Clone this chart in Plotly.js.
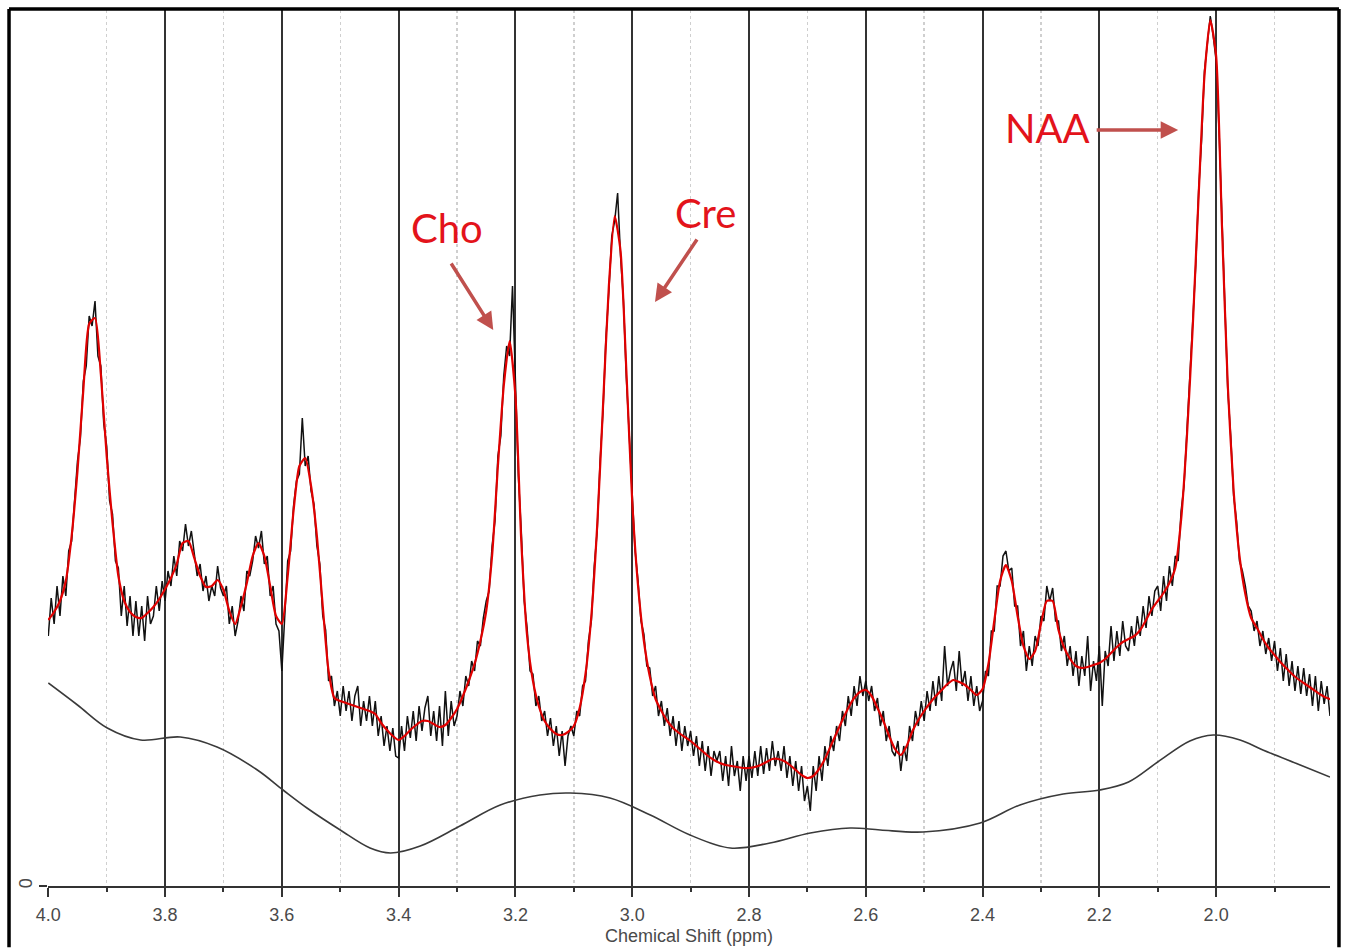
<!DOCTYPE html>
<html>
<head>
<meta charset="utf-8">
<script src="https://cdn.plot.ly/plotly-3.0.1.min.js"></script>
<style>
  html, body { margin: 0; padding: 0; background: #fff; }
  #chart { width: 1347px; height: 950px; }
</style>
</head>
<body>
<div id="chart"></div>
<script>
// ---------- data ----------
// Chemical-shift sampling grid (ppm), high to low
const spectrumStart = 4.0;
const spectrumStep = 0.005;   // raw spectrum sampling
const fitStep = 0.01;         // fitted curve sampling

// Raw (noisy) spectrum, arbitrary units, 4.000 -> 1.800 ppm every 0.005 ppm
const spectrumValues = [
  250,288,262,300,270,310,290,335,345,390,
  425,448,505,520,570,560,585,530,520,462,
  440,385,372,325,318,270,300,260,290,250,
  285,250,280,245,290,262,270,300,275,305,
  285,315,300,330,310,345,335,362,340,355,
  335,310,322,295,310,285,300,290,320,298,
  290,300,262,280,250,265,290,275,315,310,
  325,350,338,355,322,330,290,300,262,255,
  215,270,325,335,380,405,412,468,420,430,
  395,382,340,322,270,256,205,210,180,195,
  170,200,175,195,165,190,200,160,185,165,
  190,160,185,150,170,140,160,135,158,130,
  128,160,135,170,148,175,145,180,155,178,
  190,150,175,145,180,140,195,150,185,160,
  170,195,180,210,200,225,215,245,240,268,
  285,295,340,365,430,450,510,540,530,600,
  500,410,355,285,258,215,212,180,190,165,
  175,150,168,140,160,130,155,120,150,160,
  150,175,170,200,205,245,265,320,355,425,
  475,548,595,650,665,693,630,585,508,455,
  392,335,305,265,252,220,218,190,200,170,
  185,160,178,150,170,140,165,135,160,140,
  155,130,150,120,145,115,140,110,135,125,
  135,105,130,100,140,110,125,95,130,105,
  130,108,135,110,140,112,138,115,145,120,
  135,115,140,108,130,100,125,95,120,85,
  100,75,120,95,130,105,140,120,150,135,
  160,145,175,160,190,170,200,180,210,190,
  205,185,200,175,188,160,175,145,160,135,
  130,145,115,140,125,160,145,175,160,185,
  165,195,175,205,180,210,185,240,200,215,
  225,195,235,200,215,185,210,180,200,175,
  185,215,210,255,255,300,300,330,335,315,
  318,280,280,240,255,215,240,220,250,240,
  270,265,300,285,298,265,265,235,250,220,
  240,210,235,200,230,210,250,195,225,205,
  240,180,235,220,260,225,255,230,265,240,
  235,260,240,270,250,280,258,290,270,295,
  300,275,310,285,320,300,330,325,375,400,
  455,500,565,620,695,745,815,840,870,850,
  825,755,655,580,495,450,390,365,325,315,
  300,280,275,255,265,240,255,232,248,225,
  245,215,238,205,232,200,225,195,220,192,
  218,190,212,180,210,175,205,182,200,170,
  185
];

// Fitted model curve, 4.00 -> 1.80 ppm every 0.01 ppm
const fitValues = [
  266,274,285,305,350,415,496,562,568,512,
  430,363,310,285,274,269,268,273,279,287,
  297,308,322,343,345,328,310,299,300,306,
  296,275,262,280,303,330,343,330,300,270,
  262,310,375,420,428,400,350,280,215,188,
  185,183,181,179,177,175,172,163,156,150,
  146,150,156,161,165,165,162,159,161,168,
  177,190,205,222,245,275,330,420,500,545,
  490,345,250,205,180,165,157,152,151,154,
  160,178,212,270,360,480,600,670,635,515,
  385,300,245,210,187,175,165,158,153,149,
  145,140,135,130,126,123,121,120,119,118,
  118,119,121,124,127,127,125,121,116,111,
  108,110,117,127,140,153,166,178,188,194,
  196,190,178,165,150,137,131,140,155,166,
  175,183,190,196,202,206,204,201,196,191,
  197,222,265,305,321,305,270,240,227,235,
  262,285,285,256,238,227,220,218,219,221,
  223,227,233,239,244,247,250,256,266,277,
  285,293,303,318,366,450,560,690,810,866,
  830,660,500,395,330,292,268,258,247,238,
  231,224,218,212,207,203,199,195,191,188,
  186
];

// Baseline curve
const baselinePpm = [4.000,3.950,3.899,3.842,3.774,3.711,3.642,3.598,3.557,3.500,3.449,3.414,3.363,3.295,3.226,3.158,3.106,3.038,2.969,2.901,2.832,2.764,2.695,2.627,2.575,2.502,2.404,2.336,2.262,2.199,2.150,2.100,2.045,2.005,1.959,1.920,1.856,1.805];
const baselineValues = [203,181,158,146,149,139,116,96,78,56,38,33,40,60,81,91,93,88,71,51,38,43,53,58,56,54,63,81,92,96,104,124,145,151,146,136,121,109];

// Metabolite labels: name, label position, arrow tip, arrow offset
const metaboliteNames = ['Cho', 'Cre', 'NAA'];
const labelPpm = [3.317, 2.875, 2.288];
const labelValues = [658, 673, 758];
const arrowTipPpm = [3.238, 2.961, 2.065];
const arrowTipValues = [556, 584, 756];
const arrowDx = [-43, 43, -83];
const arrowDy = [-68, -64, 0];

const xTickLabels = ['4.0','3.8','3.6','3.4','3.2','3.0','2.8','2.6','2.4','2.2','2.0'];
const xTickVals = xTickLabels.map(Number);

// ---------- build ----------
const spectrumPpm = spectrumValues.map((_, i) => +(spectrumStart - i * spectrumStep).toFixed(3));
const fitPpm = fitValues.map((_, i) => +(spectrumStart - i * fitStep).toFixed(2));

const traces = [
  {
    x: baselinePpm, y: baselineValues, type: 'scatter', mode: 'lines',
    line: { color: '#3a3a3a', width: 1.6, shape: 'spline', smoothing: 1 },
    hoverinfo: 'skip'
  },
  {
    x: spectrumPpm, y: spectrumValues, type: 'scatter', mode: 'lines',
    line: { color: '#111111', width: 1.5 },
    hoverinfo: 'skip'
  },
  {
    x: fitPpm, y: fitValues, type: 'scatter', mode: 'lines',
    line: { color: '#e00000', width: 2.2, shape: 'spline', smoothing: 0.6 },
    hoverinfo: 'skip'
  }
];

const annotations = [];
metaboliteNames.forEach((name, i) => {
  annotations.push({
    x: labelPpm[i], y: labelValues[i], xref: 'x', yref: 'y',
    text: name, showarrow: false,
    font: { family: 'Lato, "Open Sans", sans-serif', size: 40, color: '#e3131b' },
    xanchor: 'center', yanchor: 'middle'
  });
  annotations.push({
    x: arrowTipPpm[i], y: arrowTipValues[i], xref: 'x', yref: 'y',
    text: '', showarrow: true, axref: 'pixel', ayref: 'pixel',
    ax: arrowDx[i], ay: arrowDy[i],
    arrowhead: 2, arrowsize: 1, arrowwidth: 3.5, arrowcolor: '#c0504d'
  });
});

// Outer frame (paper coordinates)
const fx0 = -0.0304, fx1 = 1.0070, fy0 = -0.070, fy1 = 1.0011;
const frameLine = { color: '#000', width: 3.5 };
const shapes = [
  { type: 'line', xref: 'paper', yref: 'paper', x0: fx0, x1: fx0, y0: fy0, y1: fy1, line: frameLine },
  { type: 'line', xref: 'paper', yref: 'paper', x0: fx0, x1: fx1, y0: fy1, y1: fy1, line: frameLine },
  { type: 'line', xref: 'paper', yref: 'paper', x0: fx1, x1: fx1, y0: fy0, y1: fy1, line: frameLine }
];

const layout = {
  width: 1347, height: 950,
  margin: { l: 48, r: 17, t: 10, b: 64 },
  paper_bgcolor: '#ffffff', plot_bgcolor: '#ffffff',
  showlegend: false,
  font: { family: '"Liberation Sans", Arial, sans-serif', color: '#444' },
  xaxis: {
    range: [4.0005, 1.805],
    tickmode: 'array', tickvals: xTickVals, ticktext: xTickLabels,
    showgrid: true, gridcolor: '#333', gridwidth: 2,
    zeroline: false,
    showline: true, linecolor: '#333', linewidth: 2,
    ticks: 'outside', ticklen: 9, tickwidth: 2, tickcolor: '#333',
    ticklabelstandoff: 2,
    tickfont: { size: 18, color: '#4a4a4a' },
    minor: { dtick: 0.1, tick0: 0, showgrid: true, gridcolor: '#cfcfcf', griddash: 'dot', gridwidth: 1.5,
             ticks: 'outside', ticklen: 4, tickwidth: 2, tickcolor: '#333' },
    title: { text: 'Chemical Shift (ppm)', font: { size: 18, color: '#4a4a4a' }, standoff: 6 }
  },
  yaxis: {
    range: [0, 876],
    tickmode: 'array', tickvals: [0], ticktext: ['0'],
    tickangle: -90,
    showgrid: false, zeroline: false, showline: false,
    ticks: 'outside', ticklen: 8, tickwidth: 1.5, tickcolor: '#333',
    tickfont: { size: 18, color: '#4a4a4a' }
  },
  annotations: annotations,
  shapes: shapes
};

Plotly.newPlot('chart', traces, layout, { displayModeBar: false, staticPlot: true });
</script>
</body>
</html>
